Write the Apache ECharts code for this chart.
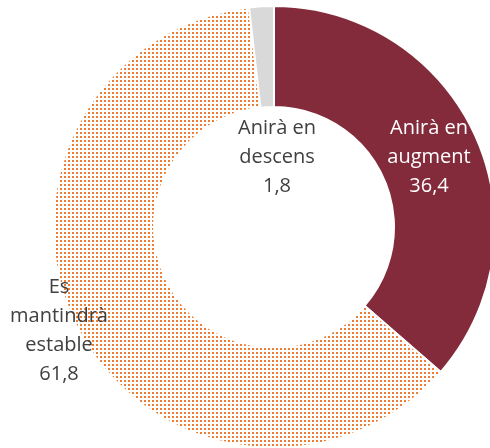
<!DOCTYPE html>
<html>
<head>
<meta charset="utf-8">
<script src="https://cdn.jsdelivr.net/npm/echarts@6/dist/echarts.min.js"></script>
<style>
  html, body { margin: 0; padding: 0; background: #fff; }
  #chart { width: 490px; height: 448px; }
</style>
</head>
<body>
<div id="chart"></div>
<script>
const categories = ['Anirà en\naugment', 'Es\nmantindrà\nestable', 'Anirà en\ndescens']
const values = [36.4, 61.8, 1.8]

// label anchor points (centre of each text block)
const labelSpots = [
  [429, 157],
  [59, 331],
  [277, 157]
]

// dotted fill like the original
const makeDots = () => {
  const c = document.createElement('canvas')
  c.width = 4
  c.height = 4
  const ctx = c.getContext('2d')
  ctx.fillStyle = '#fff'
  ctx.fillRect(0, 0, 4, 4)
  ctx.fillStyle = '#ED7D31'
  ctx.fillRect(0, 0, 2, 2)
  return c
}

const colors = ['#832A3B', { image: makeDots(), repeat: 'repeat' }, '#D9D9D9']
const labelColors = ['#fff', '#404040', '#404040']

const chart = echarts.init(document.getElementById('chart'))

chart.setOption({
  animation: false,
  series: [{
    type: 'pie',
    center: [274, 227],
    radius: [120, 221],
    startAngle: 90,
    clockwise: true,
    data: categories.map((name, i) => ({
      name,
      value: values[i],
      itemStyle: { color: colors[i] },
      label: { color: labelColors[i] }
    })),
    itemStyle: { borderColor: '#fff', borderWidth: 2 },
    label: {
      show: true,
      position: 'inside',
      fontFamily: 'Open Sans',
      fontSize: 20,
      lineHeight: 29,
      align: 'center',
      formatter: p => p.name + '\n' + p.value.toFixed(1).replace('.', ',')
    },
    labelLine: { show: false },
    labelLayout: p => ({
      x: labelSpots[p.dataIndex][0],
      y: labelSpots[p.dataIndex][1],
      align: 'center',
      verticalAlign: 'middle'
    }),
    emphasis: { disabled: true }
  }]
})
</script>
</body>
</html>
